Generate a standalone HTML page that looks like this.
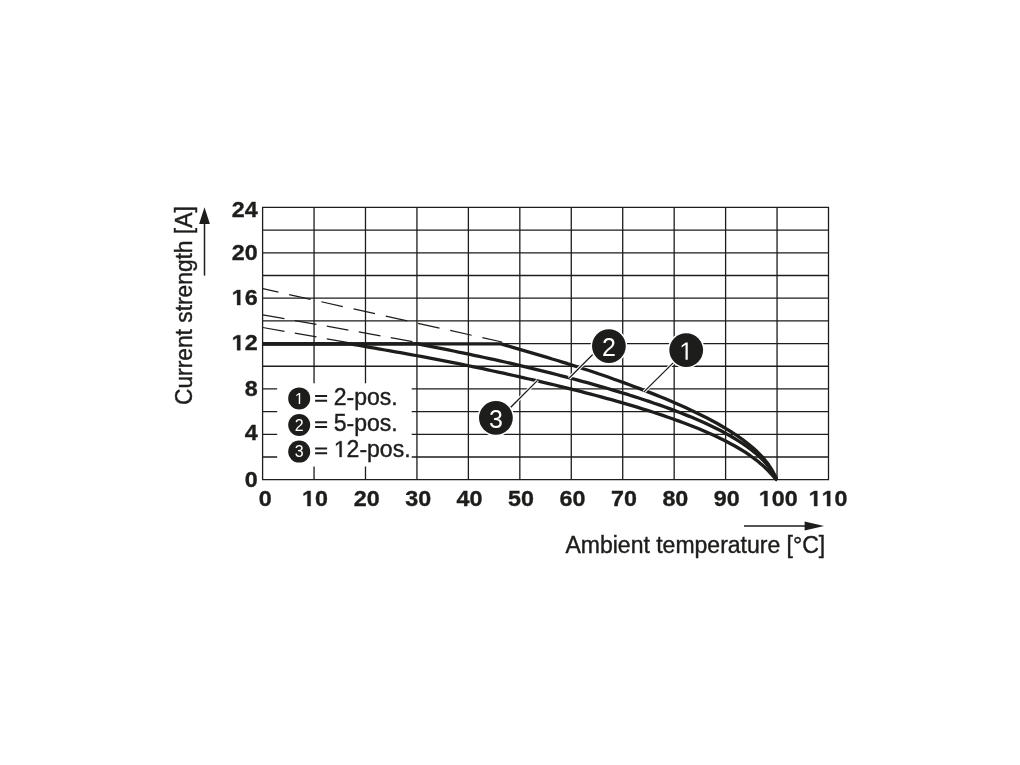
<!DOCTYPE html>
<html><head><meta charset="utf-8"><title>Derating curve</title>
<style>
html,body{margin:0;padding:0;background:#fff;}
body{width:1020px;height:765px;overflow:hidden;font-family:"Liberation Sans",sans-serif;}
svg{display:block;will-change:transform;filter:blur(0.35px);}
text{font-family:"Liberation Sans",sans-serif;fill:#1d1d1b;}
</style></head><body>
<svg width="1020" height="765" viewBox="0 0 1020 765">
<rect width="1020" height="765" fill="#fff"/>

<path d="M262.60 207.40V479.70M314.05 207.40V479.70M365.49 207.40V479.70M416.94 207.40V479.70M468.38 207.40V479.70M519.83 207.40V479.70M571.27 207.40V479.70M622.72 207.40V479.70M674.16 207.40V479.70M725.61 207.40V479.70M777.05 207.40V479.70M828.50 207.40V479.70M262.60 207.40H828.50M262.60 230.09H828.50M262.60 252.78H828.50M262.60 275.48H828.50M262.60 298.17H828.50M262.60 320.86H828.50M262.60 343.55H828.50M262.60 366.24H828.50M262.60 388.93H828.50M262.60 411.62H828.50M262.60 434.32H828.50M262.60 457.01H828.50M262.60 479.70H828.50" stroke="#1d1d1b" stroke-width="1.3" fill="none" stroke-linecap="square"/>
<line x1="262.8" y1="288.7" x2="502.0" y2="342.0" stroke="#1d1d1b" stroke-width="1.25" stroke-dasharray="22 11" stroke-dashoffset="6"/>
<line x1="262.8" y1="314.8" x2="418.5" y2="342.6" stroke="#1d1d1b" stroke-width="1.25" stroke-dasharray="22 10.5" stroke-dashoffset="0"/>
<line x1="262.8" y1="327.5" x2="349.5" y2="342.8" stroke="#1d1d1b" stroke-width="1.25" stroke-dasharray="22 10.5" stroke-dashoffset="0"/>
<path d="M262.6 343.9L501.0 343.9L505.9 345.3L511.1 346.8L516.2 348.3L521.4 349.8L526.5 351.3L531.7 352.8L536.8 354.3L541.9 355.8L547.1 357.4L552.2 359.0L557.4 360.5L562.5 362.1L567.7 363.7L572.8 365.4L578.0 367.0L583.1 368.7L588.2 370.3L593.4 372.0L598.5 373.8L603.7 375.5L608.8 377.3L614.0 379.2L619.1 381.0L624.3 382.9L629.4 384.7L634.6 386.7L639.7 388.6L644.8 390.6L650.0 392.6L655.1 394.6L660.3 396.7L665.4 398.8L670.6 401.0L675.7 403.2L680.9 405.5L686.0 407.8L691.1 410.2L696.3 412.7L701.4 415.2L706.6 417.8L711.7 420.5L716.9 423.3L722.0 426.2L727.2 429.3L732.3 432.5L737.4 435.9L742.6 439.5L747.7 443.5L752.9 447.8L756.5 451.0L757.8 452.3L759.0 453.5L760.3 454.9L761.6 456.2L762.9 457.6L764.2 459.1L765.5 460.7L766.8 462.3L768.1 464.0L769.3 465.9L770.6 467.8L771.9 469.9L773.2 472.2L774.5 474.7L774.7 475.2L775.0 475.7L775.3 476.3L775.5 476.8L775.8 477.4L776.0 477.9L776.3 478.5L776.5 479.0L776.8 479.5L777.1 479.7" stroke="#1d1d1b" stroke-width="3.3" fill="none" stroke-linejoin="round"/>
<path d="M262.6 343.9L418.2 343.9L422.6 344.8L427.7 345.8L432.9 346.8L438.0 347.9L443.2 348.9L448.3 349.9L453.5 351.0L458.6 352.1L463.8 353.1L468.9 354.2L474.0 355.3L479.2 356.4L484.3 357.5L489.5 358.6L494.6 359.7L499.8 360.9L504.9 362.0L510.1 363.2L515.2 364.4L520.3 365.6L525.5 366.8L530.6 368.1L535.8 369.3L540.9 370.6L546.1 371.9L551.2 373.2L556.4 374.5L561.5 375.8L566.6 377.2L571.8 378.5L576.9 379.9L582.1 381.3L587.2 382.7L592.4 384.1L597.5 385.6L602.7 387.1L607.8 388.5L612.9 390.1L618.1 391.6L623.2 393.2L628.4 394.7L633.5 396.4L638.7 398.0L643.8 399.7L649.0 401.4L654.1 403.2L659.2 404.9L664.4 406.8L669.5 408.6L674.7 410.6L679.8 412.5L685.0 414.6L690.1 416.6L695.3 418.8L700.4 421.0L705.5 423.3L710.7 425.7L715.8 428.2L721.0 430.8L726.1 433.6L731.3 436.5L736.4 439.6L741.6 442.8L746.7 446.4L751.8 450.2L756.5 454.1L757.8 455.2L759.0 456.4L760.3 457.6L761.6 458.8L762.9 460.1L764.2 461.5L765.5 462.9L766.8 464.4L768.1 466.0L769.3 467.6L770.6 469.4L771.9 471.2L773.2 473.3L774.5 475.4L774.7 475.9L775.0 476.4L775.3 476.8L775.5 477.3L775.8 477.8L776.0 478.2L776.3 478.7L776.5 479.1L776.8 479.5L777.1 479.7" stroke="#1d1d1b" stroke-width="3.3" fill="none" stroke-linejoin="round"/>
<path d="M262.6 343.9L349.8 343.9L354.2 344.6L359.3 345.5L364.5 346.4L369.6 347.3L374.8 348.2L379.9 349.1L385.0 350.0L390.2 350.9L395.3 351.8L400.5 352.7L405.6 353.6L410.8 354.6L415.9 355.5L421.1 356.4L426.2 357.4L431.3 358.3L436.5 359.3L441.6 360.3L446.8 361.3L451.9 362.3L457.1 363.4L462.2 364.4L467.4 365.5L472.5 366.6L477.6 367.7L482.8 368.7L487.9 369.8L493.1 371.0L498.2 372.1L503.4 373.2L508.5 374.3L513.7 375.5L518.8 376.6L523.9 377.8L529.1 379.0L534.2 380.2L539.4 381.4L544.5 382.6L549.7 383.8L554.8 385.0L560.0 386.3L565.1 387.6L570.2 388.8L575.4 390.1L580.5 391.4L585.7 392.8L590.8 394.1L596.0 395.5L601.1 396.9L606.3 398.3L611.4 399.7L616.5 401.2L621.7 402.6L626.8 404.1L632.0 405.7L637.1 407.2L642.3 408.8L647.4 410.4L652.6 412.0L657.7 413.7L662.8 415.4L668.0 417.2L673.1 419.0L678.3 420.9L683.4 422.8L688.6 424.7L693.7 426.7L698.9 428.8L704.0 431.0L709.1 433.2L714.3 435.6L719.4 438.0L724.6 440.5L729.7 443.2L734.9 446.0L740.0 449.0L745.2 452.2L750.3 455.7L755.4 459.5L756.5 460.2L757.8 461.3L759.0 462.3L760.3 463.4L761.6 464.5L762.9 465.6L764.2 466.8L765.5 468.0L766.8 469.3L768.1 470.6L769.3 471.9L770.6 473.3L771.9 474.7L773.2 476.2L774.5 477.6L774.7 477.9L775.0 478.2L775.3 478.5L775.5 478.7L775.8 479.0L776.0 479.2L776.3 479.4L776.5 479.6L776.8 479.7L777.1 479.7" stroke="#1d1d1b" stroke-width="3.3" fill="none" stroke-linejoin="round"/>
<line x1="600.5" y1="346.8" x2="569.0" y2="378.3" stroke="#fff" stroke-width="3.4"/><line x1="600.5" y1="346.8" x2="569.0" y2="378.3" stroke="#1d1d1b" stroke-width="1.3"/>
<line x1="686.0" y1="350.1" x2="643.9" y2="391.9" stroke="#fff" stroke-width="3.4"/><line x1="686.0" y1="350.1" x2="643.9" y2="391.9" stroke="#1d1d1b" stroke-width="1.3"/>
<line x1="505.0" y1="413.0" x2="537.6" y2="380.4" stroke="#fff" stroke-width="3.4"/><line x1="505.0" y1="413.0" x2="537.6" y2="380.4" stroke="#1d1d1b" stroke-width="1.3"/>
<circle cx="608.9" cy="346.1" r="18.4" fill="#fff"/><circle cx="608.9" cy="346.1" r="16.9" fill="#1d1d1b"/><g transform="translate(608.90 355.80)"><text x="-6.95" y="0" style="font-size:25px;fill:#fff;">2</text></g>
<circle cx="686.2" cy="350.1" r="18.4" fill="#fff"/><circle cx="686.2" cy="350.1" r="16.9" fill="#1d1d1b"/><g transform="translate(686.20 359.80)"><path d="M-0.67 0.00L-0.67 -15.10L-4.55 -12.33L-4.55 -14.40L-0.48 -17.20L1.54 -17.20L1.54 0.00Z" fill="#fff"/></g>
<circle cx="495.9" cy="417.9" r="18.4" fill="#fff"/><circle cx="495.9" cy="417.9" r="16.9" fill="#1d1d1b"/><g transform="translate(495.90 427.60)"><text x="-6.95" y="0" style="font-size:25px;fill:#fff;">3</text></g>
<rect x="277.2" y="383.3" width="134.5" height="83.2" fill="#fff"/>
<circle cx="299.2" cy="398.4" r="11" fill="#1d1d1b"/>
<g transform="translate(299.20 404.10)"><path d="M-0.43 0.00L-0.43 -9.66L-2.91 -7.89L-2.91 -9.22L-0.31 -11.01L0.99 -11.01L0.99 0.00Z" fill="#fff"/></g>
<path d="M315.1 396.10H327.1M315.1 400.80H327.1" stroke="#1d1d1b" stroke-width="2" fill="none"/>
<g transform="translate(333.82 404.50)"><text x="0.00" y="0" style="font-size:23px;stroke:#1d1d1b;stroke-width:0.4;">2-pos.</text></g>
<circle cx="299.2" cy="425.0" r="11" fill="#1d1d1b"/>
<g transform="translate(299.20 430.70)"><text x="-4.45" y="0" style="font-size:16px;fill:#fff;">2</text></g>
<path d="M315.1 422.20H327.1M315.1 426.90H327.1" stroke="#1d1d1b" stroke-width="2" fill="none"/>
<g transform="translate(333.82 430.60)"><text x="0.00" y="0" style="font-size:23px;stroke:#1d1d1b;stroke-width:0.4;">5-pos.</text></g>
<circle cx="299.2" cy="451.6" r="11" fill="#1d1d1b"/>
<g transform="translate(299.20 457.30)"><text x="-4.45" y="0" style="font-size:16px;fill:#fff;">3</text></g>
<path d="M315.1 448.60H327.1M315.1 453.30H327.1" stroke="#1d1d1b" stroke-width="2" fill="none"/>
<g transform="translate(333.82 457.00)"><path d="M5.78 0.00L5.78 -13.89L2.21 -11.34L2.21 -13.25L5.95 -15.82L7.82 -15.82L7.82 0.00Z" fill="#1d1d1b" stroke="#1d1d1b" stroke-width="0.4"/><text x="12.79" y="0" style="font-size:23px;stroke:#1d1d1b;stroke-width:0.4;">2-pos.</text></g>
<g transform="translate(257.60 486.60) scale(1.06 1.0)"><text x="-12.24" y="0" style="font-size:22px;font-weight:bold;stroke:#1d1d1b;stroke-width:0.35;">0</text></g>
<g transform="translate(257.60 440.40) scale(1.06 1.0)"><text x="-12.24" y="0" style="font-size:22px;font-weight:bold;stroke:#1d1d1b;stroke-width:0.35;">4</text></g>
<g transform="translate(257.60 395.65) scale(1.06 1.0)"><text x="-12.24" y="0" style="font-size:22px;font-weight:bold;stroke:#1d1d1b;stroke-width:0.35;">8</text></g>
<g transform="translate(257.60 350.30) scale(1.06 1.0)"><path d="M-19.34 0.00L-19.34 -12.57L-22.97 -10.30L-22.97 -12.68L-19.17 -15.14L-16.32 -15.14L-16.32 0.00Z" fill="#1d1d1b" stroke="#1d1d1b" stroke-width="0.35"/><text x="-12.24" y="0" style="font-size:22px;font-weight:bold;stroke:#1d1d1b;stroke-width:0.35;">2</text></g>
<g transform="translate(257.60 305.10) scale(1.06 1.0)"><path d="M-19.34 0.00L-19.34 -12.57L-22.97 -10.30L-22.97 -12.68L-19.17 -15.14L-16.32 -15.14L-16.32 0.00Z" fill="#1d1d1b" stroke="#1d1d1b" stroke-width="0.35"/><text x="-12.24" y="0" style="font-size:22px;font-weight:bold;stroke:#1d1d1b;stroke-width:0.35;">6</text></g>
<g transform="translate(257.60 259.85) scale(1.06 1.0)"><text x="-24.47" y="0" style="font-size:22px;font-weight:bold;stroke:#1d1d1b;stroke-width:0.35;">20</text></g>
<g transform="translate(257.60 217.20) scale(1.06 1.0)"><text x="-24.47" y="0" style="font-size:22px;font-weight:bold;stroke:#1d1d1b;stroke-width:0.35;">24</text></g>
<g transform="translate(265.30 506.10) scale(1.06 1.0)"><text x="-6.12" y="0" style="font-size:22px;font-weight:bold;stroke:#1d1d1b;stroke-width:0.35;">0</text></g>
<g transform="translate(314.95 506.10) scale(1.06 1.0)"><path d="M-7.10 0.00L-7.10 -12.57L-10.73 -10.30L-10.73 -12.68L-6.94 -15.14L-4.08 -15.14L-4.08 0.00Z" fill="#1d1d1b" stroke="#1d1d1b" stroke-width="0.35"/><text x="0.00" y="0" style="font-size:22px;font-weight:bold;stroke:#1d1d1b;stroke-width:0.35;">0</text></g>
<g transform="translate(366.69 506.10) scale(1.06 1.0)"><text x="-12.24" y="0" style="font-size:22px;font-weight:bold;stroke:#1d1d1b;stroke-width:0.35;">20</text></g>
<g transform="translate(418.14 506.10) scale(1.06 1.0)"><text x="-12.24" y="0" style="font-size:22px;font-weight:bold;stroke:#1d1d1b;stroke-width:0.35;">30</text></g>
<g transform="translate(469.58 506.10) scale(1.06 1.0)"><text x="-12.24" y="0" style="font-size:22px;font-weight:bold;stroke:#1d1d1b;stroke-width:0.35;">40</text></g>
<g transform="translate(521.03 506.10) scale(1.06 1.0)"><text x="-12.24" y="0" style="font-size:22px;font-weight:bold;stroke:#1d1d1b;stroke-width:0.35;">50</text></g>
<g transform="translate(572.47 506.10) scale(1.06 1.0)"><text x="-12.24" y="0" style="font-size:22px;font-weight:bold;stroke:#1d1d1b;stroke-width:0.35;">60</text></g>
<g transform="translate(623.92 506.10) scale(1.06 1.0)"><text x="-12.24" y="0" style="font-size:22px;font-weight:bold;stroke:#1d1d1b;stroke-width:0.35;">70</text></g>
<g transform="translate(675.36 506.10) scale(1.06 1.0)"><text x="-12.24" y="0" style="font-size:22px;font-weight:bold;stroke:#1d1d1b;stroke-width:0.35;">80</text></g>
<g transform="translate(726.81 506.10) scale(1.06 1.0)"><text x="-12.24" y="0" style="font-size:22px;font-weight:bold;stroke:#1d1d1b;stroke-width:0.35;">90</text></g>
<g transform="translate(778.25 506.10) scale(1.06 1.0)"><path d="M-13.22 0.00L-13.22 -12.57L-16.85 -10.30L-16.85 -12.68L-13.06 -15.14L-10.20 -15.14L-10.20 0.00Z" fill="#1d1d1b" stroke="#1d1d1b" stroke-width="0.35"/><text x="-6.12" y="0" style="font-size:22px;font-weight:bold;stroke:#1d1d1b;stroke-width:0.35;">00</text></g>
<g transform="translate(828.10 506.10) scale(1.06 1.0)"><path d="M-13.22 0.00L-13.22 -12.57L-16.85 -10.30L-16.85 -12.68L-13.06 -15.14L-10.20 -15.14L-10.20 0.00Z" fill="#1d1d1b" stroke="#1d1d1b" stroke-width="0.35"/><path d="M-0.98 0.00L-0.98 -12.57L-4.61 -10.30L-4.61 -12.68L-0.82 -15.14L2.04 -15.14L2.04 0.00Z" fill="#1d1d1b" stroke="#1d1d1b" stroke-width="0.35"/><text x="6.12" y="0" style="font-size:22px;font-weight:bold;stroke:#1d1d1b;stroke-width:0.35;">0</text></g>
<g transform="translate(825.20 552.80)"><text x="-259.75" y="0" style="font-size:23px;stroke:#1d1d1b;stroke-width:0.4;">Ambient temperature [°C]</text></g>
<g transform="translate(192.30 405.00) rotate(-90) scale(1.0 1.055)"><text x="0.00" y="0" style="font-size:22.78px;stroke:#1d1d1b;stroke-width:0.4;">Current strength [A]</text></g>
<path d="M744 525.9H806" stroke="#1d1d1b" stroke-width="1.5" fill="none"/><path d="M804.6 521.4L824.1 525.9L804.6 530.4Z" fill="#1d1d1b"/>
<path d="M204.5 275.6V222" stroke="#1d1d1b" stroke-width="1.5" fill="none"/><path d="M199.1 224L204.5 207.3L209.9 224Z" fill="#1d1d1b"/>
</svg></body></html>
